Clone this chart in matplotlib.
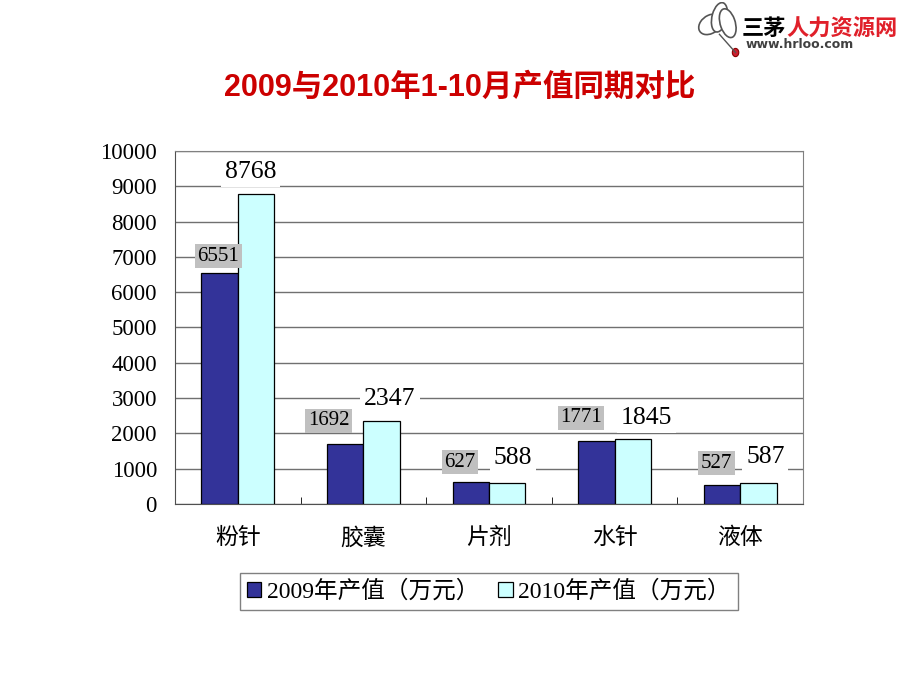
import numpy as np
import matplotlib.pyplot as plt
from matplotlib.patches import Ellipse, Circle

plt.rcParams['font.family'] = ['Liberation Serif', 'Noto Sans CJK SC', 'DejaVu Sans']

categories = ["粉针", "胶囊", "片剂", "水针", "液体"]
values_2009 = [6551, 1692, 627, 1771, 527]
values_2010 = [8768, 2347, 588, 1845, 587]
series_names = ["2009年产值（万元）", "2010年产值（万元）"]
yticks = [0, 1000, 2000, 3000, 4000, 5000, 6000, 7000, 8000, 9000, 10000]

# label offsets (points) as placed in the original
dx_2009 = [-1, -12, -8, -11, -4]
dy_2009 = [12, 17, 14, 17, 16]
dx_2010 = [-4, 6, 4, 10, 5]
dy_2010 = [16, 16, 18, 15, 19]

fig = plt.figure(figsize=(9.2, 6.9), dpi=100)
ax = fig.add_axes([0.1902, 0.2696, 0.6826, 0.5116])

x = np.arange(len(categories))
w = 0.29
ax.bar(x - w / 2, values_2009, w, color='#333399', edgecolor='black', linewidth=0.9,
       label=series_names[0], zorder=3)
ax.bar(x + w / 2, values_2010, w, color='#CCFFFF', edgecolor='black', linewidth=0.9,
       label=series_names[1], zorder=3)

for i, v in enumerate(values_2010):
    ax.annotate(str(v), (x[i] + w / 2, v), xytext=(dx_2010[i], dy_2010[i]),
                textcoords='offset points', ha='center', va='center', fontsize=18.5, zorder=4,
                bbox=dict(boxstyle='square,pad=0.15', fc='white', ec='none'))
for i, v in enumerate(values_2009):
    ax.annotate(str(v), (x[i] - w / 2, v), xytext=(dx_2009[i], dy_2009[i]),
                textcoords='offset points', ha='center', va='center', fontsize=15, zorder=5,
                bbox=dict(boxstyle='square,pad=0.12', fc='#C0C0C0', ec='none'))

ax.set_xlim(-0.5, len(categories) - 0.5)
ax.set_ylim(0, 10000)
ax.set_yticks(yticks)
ax.set_yticklabels([str(t) for t in yticks], fontsize=16.5)
ax.tick_params(axis='y', length=0, pad=13)
ax.set_xticks(x)
ax.set_xticklabels(categories, fontsize=16.5)
ax.tick_params(axis='x', length=0, pad=17)
ax.set_xticks(np.arange(len(categories) + 1) - 0.5, minor=True)
ax.tick_params(axis='x', which='minor', direction='in', length=5, color='black')
ax.grid(axis='y', color='#707070', linewidth=1, zorder=0)

for side in ['left', 'bottom']:
    ax.spines[side].set_color('#505050')
for side in ['top', 'right']:
    ax.spines[side].set_color('#808080')

leg = ax.legend(loc='upper center', bbox_to_anchor=(0.5, -0.162), ncol=2, fontsize=17,
                frameon=True, fancybox=False, edgecolor='#606060', handlelength=0.6,
                handleheight=0.6, handletextpad=0.25, columnspacing=0.8, borderpad=0.3)
leg.get_frame().set_linewidth(1.0)

fig.text(0.5, 0.872, "2009与2010年1-10月产值同期对比", ha='center', va='center',
         fontsize=22, fontweight='bold', color='#CC0000',
         family=['Liberation Sans', 'Noto Sans CJK SC'])

# logo, top right
logo = fig.add_axes([0.757, 0.912, 0.05, 0.085])
logo.set_xlim(0, 1)
logo.set_ylim(0, 1)
logo.axis('off')
for cx, cy, ang in [(0.3, 0.62, 20), (0.5, 0.74, 70), (0.68, 0.64, 115)]:
    logo.add_patch(Ellipse((cx, cy), 0.52, 0.32, angle=ang, fc='white', ec='#555555', lw=1.2))
logo.plot([0.5, 0.85], [0.45, 0.14], color='#555555', lw=1)
logo.add_patch(Circle((0.85, 0.14), 0.07, fc='#CC2030', ec='#880000', lw=0.8))

fig.text(0.806, 0.959, "三茅", ha='left', va='center', fontsize=16, fontweight='bold',
         color='black', family=['Noto Sans CJK SC'])
fig.text(0.855, 0.959, "人力资源网", ha='left', va='center', fontsize=16, fontweight='bold',
         color='#E0202A', family=['Noto Sans CJK SC'])
fig.text(0.81, 0.935, "www.hrloo.com", ha='left', va='center', fontsize=9, fontweight='bold',
         color='#404040', family=['DejaVu Sans'])

fig.savefig("out.png", dpi=100)
